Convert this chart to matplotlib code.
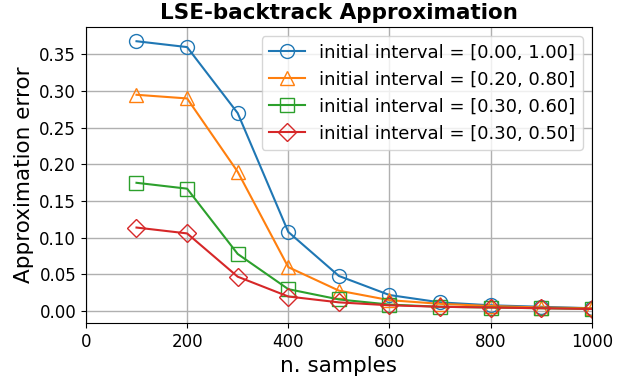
import matplotlib.pyplot as plt

# data
n_samples = [100, 200, 300, 400, 500, 600, 700, 800, 900, 1000]
err_00_100 = [0.368, 0.360, 0.270, 0.108, 0.048, 0.022, 0.012, 0.008, 0.006, 0.004]
err_20_80 = [0.295, 0.290, 0.190, 0.060, 0.028, 0.015, 0.010, 0.007, 0.005, 0.004]
err_30_60 = [0.175, 0.167, 0.078, 0.030, 0.016, 0.009, 0.006, 0.005, 0.004, 0.003]
err_30_50 = [0.114, 0.106, 0.047, 0.020, 0.012, 0.008, 0.006, 0.005, 0.004, 0.003]
labels = ['initial interval = [0.00, 1.00]', 'initial interval = [0.20, 0.80]',
          'initial interval = [0.30, 0.60]', 'initial interval = [0.30, 0.50]']

fig, ax = plt.subplots(figsize=(6.27, 3.79), dpi=100)

series = [err_00_100, err_20_80, err_30_60, err_30_50]
markers = ['o', '^', 's', 'D']
for vals, mk, lab in zip(series, markers, labels):
    ax.plot(n_samples, vals, marker=mk, markerfacecolor='none', markersize=10 if mk != 'D' else 9,
            label=lab)

ax.set_xlim(0, 1000)
ax.set_ylim(-0.016, 0.387)
ax.set_xticks(range(0, 1001, 200))
ax.set_yticks([0.0, 0.05, 0.1, 0.15, 0.2, 0.25, 0.3, 0.35])
ax.tick_params(labelsize=12)
ax.grid(True, linewidth=1)
ax.set_xlabel('n. samples', fontsize=15.5)
ax.set_ylabel('Approximation error', fontsize=15.5)
ax.set_title('LSE-backtrack Approximation', fontsize=15.5, fontweight='bold')
ax.legend(fontsize=13, loc='upper right')

fig.subplots_adjust(left=0.137, right=0.944, top=0.928, bottom=0.148)
fig.savefig('out.png')
